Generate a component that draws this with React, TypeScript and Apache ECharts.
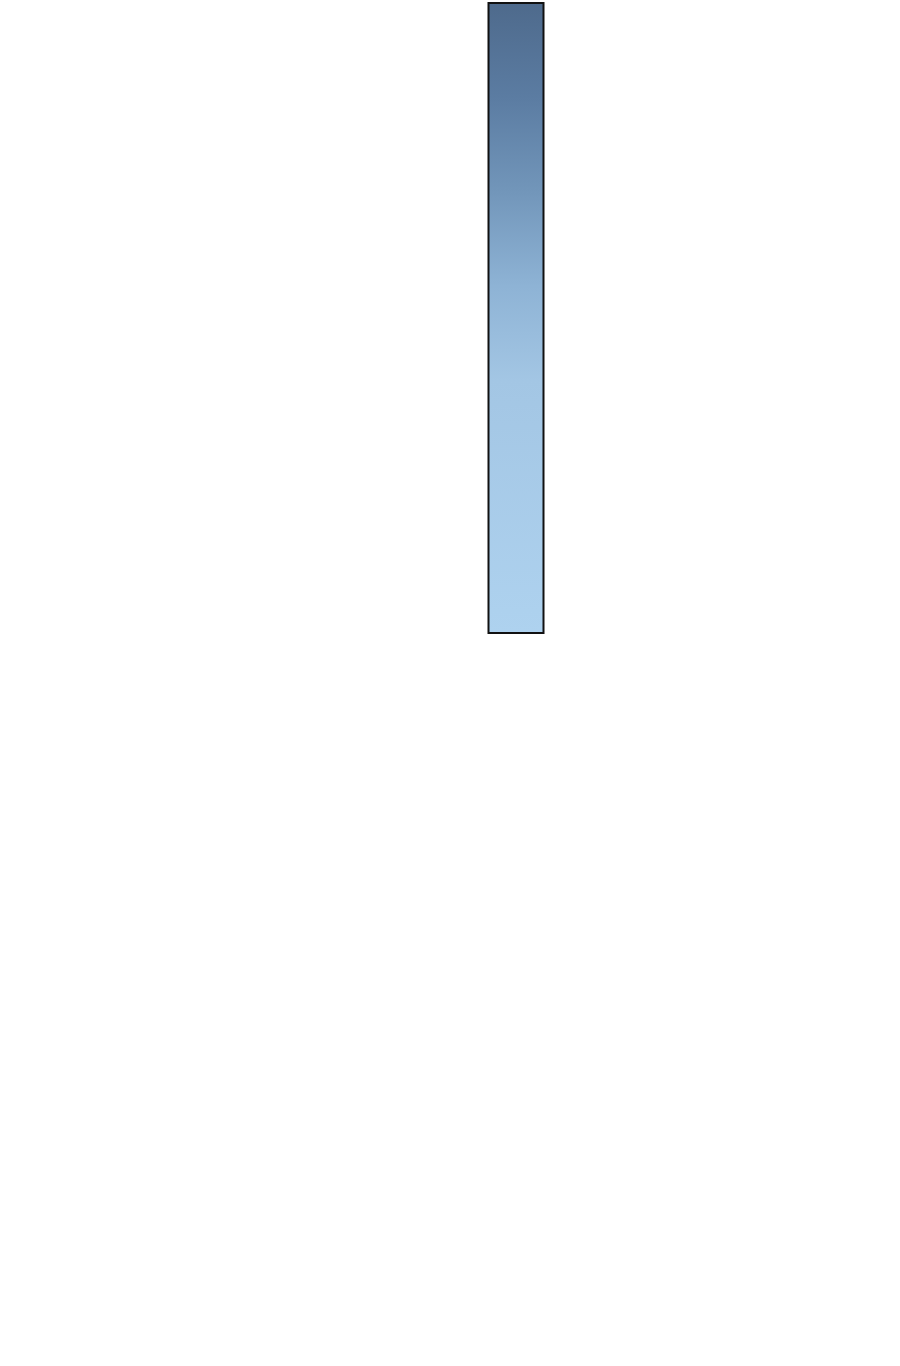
import { useEffect, useRef } from 'react';
import * as echarts from 'echarts';

// 单柱数据
const categories = ['A'];
const values = [100];

export default function App() {
  const chartRef = useRef<HTMLDivElement>(null);

  useEffect(() => {
    document.body.style.margin = '0';
    if (!chartRef.current) return;
    const chart = echarts.init(chartRef.current, undefined, { renderer: 'svg' });

    const option: echarts.EChartsOption = {
      animation: false,
      backgroundColor: '#ffffff',
      grid: { left: 132, right: 0, top: 2, bottom: 732 },
      xAxis: {
        type: 'category',
        data: categories,
        show: false,
      },
      yAxis: {
        type: 'value',
        min: 0,
        max: 'dataMax',
        show: false,
      },
      series: [
        {
          type: 'bar',
          data: values,
          barWidth: 57,
          itemStyle: {
            borderColor: '#111111',
            borderWidth: 2,
            color: new echarts.graphic.LinearGradient(0, 0, 0, 1, [
              { offset: 0, color: '#4e6a8c' },
              { offset: 0.15, color: '#5b7ca2' },
              { offset: 0.3, color: '#7296ba' },
              { offset: 0.45, color: '#8eb3d5' },
              { offset: 0.6, color: '#a3c6e4' },
              { offset: 1, color: '#aed2ef' },
            ]),
          },
        },
      ],
    };

    chart.setOption(option);
    return () => {
      chart.dispose();
    };
  }, []);

  return <div ref={chartRef} style={{ width: 900, height: 1366 }} />;
}
